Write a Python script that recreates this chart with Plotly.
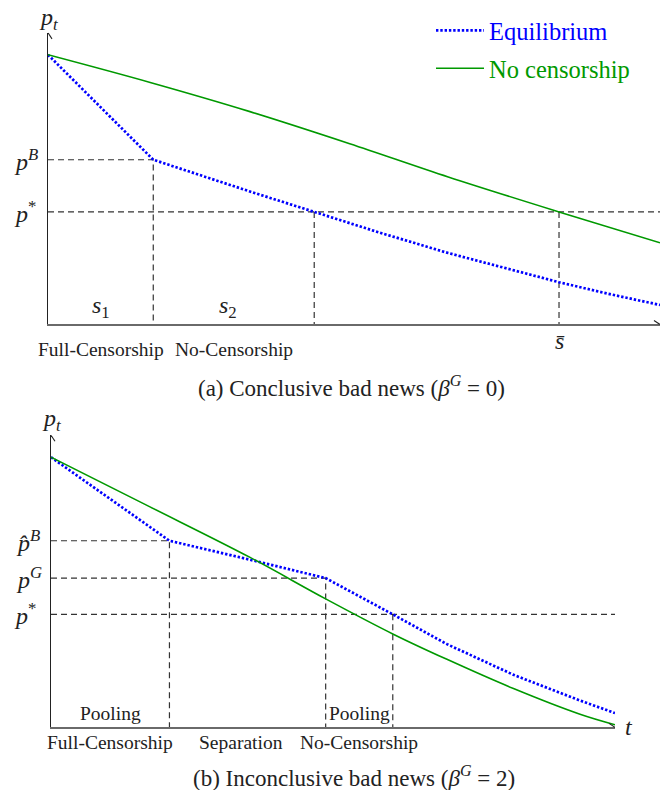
import plotly.graph_objects as go

# ---------------- data: panel (a) conclusive bad news ----------------
t_a_eq = [0.0, 1.72, 3.30, 4.35, 5.42, 6.54, 7.47, 8.35, 9.18, 10.0]
p_a_eq = [0.925, 0.565, 0.456, 0.386, 0.315, 0.245, 0.193, 0.145, 0.104, 0.067]
t_a_nc = [0.0, 1.67, 3.30, 4.93, 6.54, 8.35, 10.0]
p_a_nc = [0.925, 0.830, 0.730, 0.620, 0.506, 0.386, 0.280]
a_pB, a_pstar = 0.565, 0.386
a_s1, a_s2, a_sbar = 1.72, 4.35, 8.35

# ---------------- data: panel (b) inconclusive bad news ----------------
t_b_eq = [0.0, 2.10, 3.53, 4.87, 6.06, 7.02, 8.20, 9.38, 10.0]
p_b_eq = [0.925, 0.639, 0.574, 0.511, 0.387, 0.285, 0.180, 0.092, 0.049]
t_b_nc = [0.0, 1.755, 3.53, 4.87, 6.06, 7.02, 8.20, 9.38, 10.0]
p_b_nc = [0.925, 0.755, 0.582, 0.440, 0.320, 0.233, 0.133, 0.045, 0.009]
b_phatB, b_pG, b_pstar = 0.639, 0.511, 0.387
b_t1, b_t2, b_t3 = 2.10, 4.87, 6.06

T_MAX = 10.0
P_MAX = 1.0

FONT = "Liberation Serif, Times New Roman, serif"
BLUE = "#0000ff"
GREEN = "#009900"
DASH_C = "#333333"
OFF = 8                # page body margin of the browser
W, H = 671 - OFF, 798 - 2 * OFF

fig = go.Figure()

def dashed(x, y, xa, ya):
    fig.add_trace(go.Scatter(x=x, y=y, mode="lines", xaxis=xa, yaxis=ya,
                             line=dict(color=DASH_C, width=1.2, dash="6px,4px"),
                             showlegend=False, hoverinfo="skip"))

# panel (a) dashed guides
dashed([0, a_s1, a_s1], [a_pB, a_pB, 0], "x", "y")
dashed([0, T_MAX], [a_pstar, a_pstar], "x", "y")
dashed([a_s2, a_s2], [a_pstar, 0], "x", "y")
dashed([a_sbar, a_sbar], [a_pstar, 0], "x", "y")

# panel (b) dashed guides
dashed([0, b_t1, b_t1], [b_phatB, b_phatB, 0], "x2", "y2")
dashed([0, b_t2, b_t2], [b_pG, b_pG, 0], "x2", "y2")
dashed([0, T_MAX], [b_pstar, b_pstar], "x2", "y2")
dashed([b_t3, b_t3], [b_pstar, 0], "x2", "y2")

eq_line = dict(color=BLUE, width=2.7, dash="2.4px,1.9px")
nc_line = dict(color=GREEN, width=1.6, shape="spline", smoothing=1.0)

fig.add_trace(go.Scatter(x=t_a_eq, y=p_a_eq, mode="lines", line=eq_line,
                         name=f"<span style='color:{BLUE}'>Equilibrium</span>",
                         legendgroup="eq", xaxis="x", yaxis="y"))
fig.add_trace(go.Scatter(x=t_a_nc, y=p_a_nc, mode="lines", line=nc_line,
                         name=f"<span style='color:{GREEN}'>No censorship</span>",
                         legendgroup="nc", xaxis="x", yaxis="y"))
fig.add_trace(go.Scatter(x=t_b_eq, y=p_b_eq, mode="lines", line=eq_line,
                         showlegend=False, xaxis="x2", yaxis="y2"))
fig.add_trace(go.Scatter(x=t_b_nc, y=p_b_nc, mode="lines", line=nc_line,
                         showlegend=False, xaxis="x2", yaxis="y2"))

def px_x(p):
    return (p - OFF) / W

def px_y(p):
    return 1 - (p - OFF) / H

xa_common = dict(range=[0, T_MAX], showgrid=False, zeroline=False, showticklabels=False,
                 ticks="", showline=True, linecolor="#6a6a6a", linewidth=2)
ya_common = dict(range=[0, P_MAX], showgrid=False, zeroline=False, showticklabels=False,
                 ticks="", showline=True, linecolor="#222222", linewidth=1.2)

fig.update_layout(
    width=W, height=H, autosize=False,
    margin=dict(l=0, r=0, t=0, b=0),
    paper_bgcolor="white", plot_bgcolor="white",
    font=dict(family=FONT, color="#222222", size=19),
    xaxis=dict(xa_common, domain=[px_x(48), px_x(660)], anchor="y"),
    yaxis=dict(ya_common, domain=[px_y(321.5), px_y(28)], anchor="x"),
    xaxis2=dict(xa_common, domain=[px_x(51), px_x(615)], anchor="y2"),
    yaxis2=dict(ya_common, domain=[px_y(727), px_y(433)], anchor="x2"),
    legend=dict(x=px_x(431), y=px_y(3), xanchor="left", yanchor="top",
                font=dict(family=FONT, size=24.5), bgcolor="rgba(0,0,0,0)",
                traceorder="grouped", tracegroupgap=3, itemwidth=48),
    showlegend=True,
)

# arrow heads (pixel-sized chevrons anchored at axis ends)
def chevron(xa, ya, xanc, yanc, horizontal):
    if horizontal:
        segs = [(-6, 4), (-6, -4)]
    else:
        segs = [(4, -6), (-4, -6)]
    for dx, dy in segs:
        fig.add_shape(type="line", xref=xa, yref=ya, xsizemode="pixel", ysizemode="pixel",
                      xanchor=xanc, yanchor=yanc, x0=dx, y0=dy, x1=0, y1=0,
                      line=dict(color="#222222", width=1.1))

chevron("x", "y", T_MAX, 0, True)
chevron("x", "y", 0, P_MAX, False)
chevron("x2", "y2", T_MAX, 0, True)
chevron("x2", "y2", 0, P_MAX, False)

ann = []
def A(text, x, y, xref, yref, size=19.5, xanchor="center", yanchor="middle", xshift=0, yshift=0):
    ann.append(dict(text=text, x=x, y=y, xref=xref, yref=yref, showarrow=False,
                    font=dict(family=FONT, size=size, color="#222222"),
                    xanchor=xanchor, yanchor=yanchor, xshift=xshift, yshift=yshift))

MATH = 24
# panel (a)
A("<i>p</i><sub><i>t</i></sub>", 0, P_MAX, "x", "y", size=MATH, yshift=14)
A("<i>t</i>", T_MAX, 0, "x", "y", size=MATH, xanchor="left", xshift=5)
A("<i>p</i><sup><i>B</i></sup>", px_x(12), a_pB, "paper", "y", size=MATH, xanchor="left")
A("<i>p</i><sup>*</sup>", px_x(12), a_pstar, "paper", "y", size=MATH, xanchor="left")
A("<i>s</i><sub>1</sub>", a_s1 / 2, 0, "x", "y", size=MATH, yshift=17)
A("<i>s</i><sub>2</sub>", (a_s1 + a_s2) / 2 - 0.1, 0, "x", "y", size=MATH, yshift=17)
A("<i>s̄</i>", a_sbar, 0, "x", "y", size=MATH, yshift=-17)
A("Full-Censorship", a_s1 / 2, 0, "x", "y", yshift=-25)
A("No-Censorship", (a_s1 + a_s2) / 2, 0, "x", "y", yshift=-25)
A("(a) Conclusive bad news (<i>β</i><sup><i>G</i></sup> = 0)", px_x(351), px_y(384), "paper", "paper", size=23)

# panel (b)
A("<i>p</i><sub><i>t</i></sub>", 0, P_MAX, "x2", "y2", size=MATH, yshift=15)
A("<i>t</i>", T_MAX, 0, "x2", "y2", size=MATH, xanchor="left", xshift=8)
A("<i>p̂</i><sup><i>B</i></sup>", px_x(14), b_phatB, "paper", "y2", size=MATH, xanchor="left")
A("<i>p</i><sup><i>G</i></sup>", px_x(14), b_pG, "paper", "y2", size=MATH, xanchor="left")
A("<i>p</i><sup>*</sup>", px_x(12), b_pstar, "paper", "y2", size=MATH, xanchor="left")
A("Pooling", b_t1 / 2, 0, "x2", "y2", yshift=14)
A("Pooling", (b_t2 + b_t3) / 2, 0, "x2", "y2", yshift=14)
A("Full-Censorship", b_t1 / 2, 0, "x2", "y2", yshift=-15)
A("Separation", (b_t1 + b_t2) / 2 - 0.12, 0, "x2", "y2", yshift=-15)
A("No-Censorship", (b_t2 + b_t3) / 2, 0, "x2", "y2", yshift=-15)
A("(b) Inconclusive bad news (<i>β</i><sup><i>G</i></sup> = 2)", px_x(354), px_y(776), "paper", "paper", size=23)

fig.update_layout(annotations=ann)

fig.write_html("out.html")
